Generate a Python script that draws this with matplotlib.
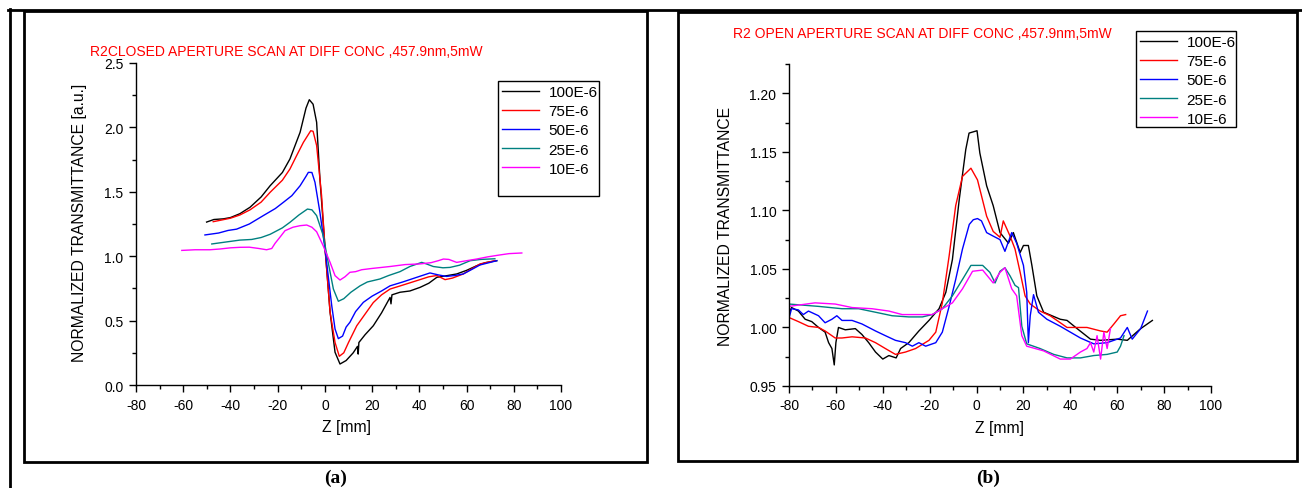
import matplotlib
matplotlib.use("Agg")
import matplotlib.pyplot as plt
from matplotlib.patches import Rectangle
from matplotlib.lines import Line2D
from matplotlib.ticker import MultipleLocator, FormatStrFormatter

plt.rcParams['font.family'] = ['Liberation Sans', 'DejaVu Sans']
plt.rcParams['axes.unicode_minus'] = False

labels = ['100E-6', '75E-6', '50E-6', '25E-6', '10E-6']
colors = ['black', '#ff0000', '#0000ff', '#008080', '#ff00ff']

# (a) closed aperture
z_a100 = [-50.1, -47, -43, -40, -36, -31.7, -27, -23.2, -18, -14.8, -10.5, -8, -6.6, -5, -3.5, -2.1, 0, 2.2, 4.3,
          6.4, 9, 12, 13.8, 14.1, 14.4, 17, 20.5, 24, 27.6, 28.0, 28.4, 31.8, 36, 40.3, 44, 47.4, 52, 55.8, 60, 64.3,
          68, 72.8]
t_a100 = [1.265, 1.285, 1.29, 1.30, 1.33, 1.38, 1.46, 1.547, 1.65, 1.755, 1.962, 2.15, 2.215, 2.18, 2.04, 1.60, 1.08,
          0.565, 0.254, 0.163, 0.19, 0.25, 0.30, 0.24, 0.33, 0.39, 0.46, 0.56, 0.68, 0.63, 0.70, 0.72, 0.73, 0.758,
          0.79, 0.836, 0.85, 0.862, 0.89, 0.926, 0.95, 0.965]
z_a75 = [-47.3, -44, -40, -36, -31.7, -27, -23.2, -18, -14.8, -12, -9.1, -6, -5, -3.5, -1.4, 0.1, 2.2, 4.3, 6.1, 8,
         10, 13.5, 17, 20.5, 24, 27.6, 32, 38.9, 44, 47.4, 50.9, 54, 58.6, 62, 65.7, 72]
t_a75 = [1.268, 1.28, 1.295, 1.32, 1.36, 1.42, 1.496, 1.59, 1.677, 1.78, 1.884, 1.974, 1.97, 1.86, 1.47, 1.05, 0.565,
         0.33, 0.223, 0.25, 0.33, 0.46, 0.55, 0.64, 0.70, 0.745, 0.77, 0.81, 0.84, 0.85, 0.818, 0.83, 0.862, 0.90,
         0.94, 0.965]
z_a50 = [-50.8, -45, -41, -37.4, -32, -26.1, -21, -17.6, -14, -10.5, -8, -7, -5.5, -4.2, -2.1, 0.1, 2.9, 4.3, 5.7,
         7.5, 9, 10.6, 13, 16.3, 20, 24, 27.6, 33, 38.9, 44.5, 48, 51.5, 55, 58.6, 62, 65.7, 72.8]
t_a50 = [1.165, 1.18, 1.20, 1.21, 1.25, 1.315, 1.37, 1.418, 1.47, 1.547, 1.62, 1.651, 1.65, 1.574, 1.34, 1.05, 0.616,
         0.435, 0.36, 0.38, 0.45, 0.487, 0.57, 0.642, 0.69, 0.73, 0.77, 0.80, 0.836, 0.87, 0.855, 0.843, 0.85, 0.862,
         0.895, 0.932, 0.965]
z_a25 = [-47.9, -42, -36, -31, -27, -23.2, -18, -14.8, -11, -7.4, -5.5, -3.5, -0.7, 1.4, 3.6, 5.7, 8, 11, 14.9, 18,
         23.3, 27, 31.8, 36, 41, 43, 45.9, 50, 53, 57, 61.5, 66, 72]
t_a25 = [1.095, 1.11, 1.125, 1.13, 1.145, 1.17, 1.22, 1.263, 1.32, 1.366, 1.36, 1.315, 1.16, 0.952, 0.745, 0.65, 0.67,
         0.72, 0.77, 0.80, 0.823, 0.85, 0.88, 0.92, 0.952, 0.94, 0.92, 0.91, 0.913, 0.93, 0.965, 0.975, 0.98]
z_a10 = [-60.6, -55, -48.7, -44.4, -40, -36, -32, -28, -24.7, -22.5, -21.1, -18.5, -16.9, -13.5, -10.5, -7.7, -5.5,
         -3.5, -0.7, 2.2, 4.3, 6.4, 8.5, 10.6, 13, 15.6, 20, 27.6, 34, 40.3, 45, 48, 50.2, 52.5, 55.8, 60, 64.3, 69,
         74.2, 78, 83.4]
t_a10 = [1.045, 1.05, 1.05, 1.056, 1.065, 1.069, 1.07, 1.06, 1.05, 1.06, 1.10, 1.16, 1.198, 1.225, 1.237, 1.242, 1.225,
         1.19, 1.08, 0.952, 0.849, 0.815, 0.84, 0.875, 0.88, 0.895, 0.905, 0.92, 0.935, 0.94, 0.95, 0.965, 0.978,
         0.975, 0.952, 0.965, 0.978, 0.995, 1.01, 1.02, 1.025]

# (b) open aperture
z_b100 = [-80, -78.9, -76, -73.1, -70.3, -67.4, -64.6, -63.1, -61.7, -60.7, -60, -58.9, -56, -51.7, -48.9, -46, -43.1,
          -40, -37.4, -34.3, -32.4, -28.9, -24.6, -20.3, -16, -13.1, -10.3, -7.4, -4.6, -3.2, -1.5, 0.2, 1.4, 4.3,
          7.1, 10, 13.6, 15.7, 18.6, 20, 22.1, 23.6, 25.7, 28.6, 35.7, 38.6, 42.9, 48.6, 52.9, 60, 64.3, 70, 75]
t_b100 = [1.012, 1.017, 1.014, 1.007, 1.005, 1.000, 0.996, 0.987, 0.982, 0.968, 0.987, 1.000, 0.998, 0.999, 0.994,
          0.987, 0.979, 0.973, 0.976, 0.974, 0.982, 0.987, 0.997, 1.006, 1.016, 1.030, 1.058, 1.109, 1.152, 1.166,
          1.167, 1.168, 1.149, 1.121, 1.104, 1.081, 1.072, 1.081, 1.064, 1.070, 1.070, 1.053, 1.027, 1.013, 1.007,
          1.006, 0.999, 0.990, 0.989, 0.990, 0.989, 0.999, 1.006]
z_b75 = [-80, -76, -71.7, -67.4, -64.6, -60.3, -57.4, -53.1, -47.4, -43.1, -38.9, -34.6, -30.3, -26, -20.3, -17.4,
         -14.6, -11.7, -8.9, -6, -2.4, 0.4, 4.3, 7.1, 10, 11.4, 14.3, 16.4, 18.6, 20.7, 22.9, 27.1, 31.4, 38.6, 47.1,
         52.9, 55.7, 58.6, 61.4, 63.6]
t_b75 = [1.0085, 1.005, 1.001, 1.000, 0.997, 0.991, 0.991, 0.992, 0.991, 0.987, 0.982, 0.977, 0.979, 0.982, 0.989,
         0.996, 1.021, 1.061, 1.104, 1.129, 1.136, 1.126, 1.095, 1.082, 1.077, 1.091, 1.078, 1.067, 1.047, 1.027,
         1.020, 1.014, 1.010, 1.000, 1.000, 0.997, 0.996, 1.003, 1.010, 1.011]
z_b50 = [-80, -78.9, -76, -73.9, -71.7, -67.4, -64.6, -61.7, -59.6, -57.4, -53.1, -48.9, -43.1, -38.9, -34.6, -30.3,
         -27.4, -24.6, -21.7, -17.4, -14.6, -11.7, -8.9, -6, -3.1, -1.4, 0.4, 2.1, 4.3, 7.1, 10, 12.1, 15, 17.1, 20,
         21.4, 22.1, 22.9, 24.3, 26.4, 30, 35.7, 44.3, 50, 55.7, 61.4, 64.3, 66.4, 70, 72.9]
t_b50 = [1.008, 1.016, 1.015, 1.011, 1.014, 1.010, 1.004, 1.007, 1.010, 1.006, 1.006, 1.003, 0.997, 0.993, 0.989,
         0.987, 0.984, 0.987, 0.984, 0.987, 0.996, 1.018, 1.041, 1.067, 1.088, 1.092, 1.093, 1.091, 1.081, 1.078,
         1.075, 1.065, 1.081, 1.072, 1.053, 1.030, 0.987, 1.010, 1.028, 1.013, 1.007, 1.001, 0.991, 0.986, 0.987,
         0.991, 1.000, 0.990, 0.999, 1.014]
z_b25 = [-80, -67.4, -57.4, -50.3, -43.1, -36, -28.9, -23.1, -18.9, -14.6, -10.3, -6, -2.4, 2.6, 5.7, 7.9, 10, 12.1,
         14.3, 16.4, 17.9, 19.3, 21.4, 27.1, 32.9, 38.6, 44.3, 50, 55.7, 60, 61.4, 62.9]
t_b25 = [1.020, 1.018, 1.016, 1.016, 1.013, 1.010, 1.009, 1.009, 1.011, 1.016, 1.027, 1.041, 1.053, 1.053, 1.047,
         1.038, 1.048, 1.051, 1.044, 1.036, 1.034, 1.001, 0.986, 0.982, 0.977, 0.974, 0.974, 0.976, 0.977, 0.979,
         0.984, 0.993]
z_b10 = [-80, -68.9, -60.3, -53.1, -44.6, -37.4, -31.7, -24.6, -18.9, -14.6, -10.3, -6, -1.7, 2.6, 7.1, 10, 12.1, 15,
         17.1, 19.3, 21.4, 28.6, 35.7, 40, 44.3, 47.1, 48.6, 50, 51.4, 52.9, 54.3, 55.7, 57.1]
t_b10 = [1.018, 1.021, 1.020, 1.017, 1.016, 1.014, 1.011, 1.011, 1.011, 1.016, 1.021, 1.033, 1.048, 1.049, 1.038,
         1.047, 1.051, 1.033, 1.027, 0.993, 0.984, 0.980, 0.973, 0.973, 0.979, 0.982, 0.987, 0.979, 0.993, 0.973,
         0.996, 0.982, 0.999]

closed = [(z_a100, t_a100), (z_a75, t_a75), (z_a50, t_a50), (z_a25, t_a25), (z_a10, t_a10)]
opened = [(z_b100, t_b100), (z_b75, t_b75), (z_b50, t_b50), (z_b25, t_b25), (z_b10, t_b10)]

W, H = 1302, 489
fig = plt.figure(figsize=(W / 100, H / 100), dpi=100)


def px_box(x0, y0, x1, y1):
    # pixel box (top-left origin) -> figure fraction rect
    return [x0 / W, 1 - y1 / H, (x1 - x0) / W, (y1 - y0) / H]


def style_axes(ax):
    for s in ['top', 'right']:
        ax.spines[s].set_visible(False)
    for s in ['left', 'bottom']:
        ax.spines[s].set_linewidth(1.0)
    ax.tick_params(which='major', direction='out', length=5, width=1, labelsize=10, pad=4)
    ax.tick_params(which='minor', direction='out', length=3, width=1)
    ax.xaxis.set_major_locator(MultipleLocator(20))
    ax.xaxis.set_minor_locator(MultipleLocator(10))
    ax.set_xlim(-80, 100)


ax_a = fig.add_axes(px_box(136, 64, 561, 386))
ax_b = fig.add_axes(px_box(789, 65, 1211, 387))

for (z, t), c, lab in zip(closed, colors, labels):
    ax_a.plot(z, t, color=c, lw=1.0, label=lab)
for (z, t), c, lab in zip(opened, colors, labels):
    ax_b.plot(z, t, color=c, lw=1.0, label=lab)

style_axes(ax_a)
ax_a.set_ylim(0, 2.5)
ax_a.yaxis.set_major_locator(MultipleLocator(0.5))
ax_a.yaxis.set_minor_locator(MultipleLocator(0.25))
ax_a.yaxis.set_major_formatter(FormatStrFormatter('%.1f'))

style_axes(ax_b)
ax_b.set_ylim(0.95, 1.225)
ax_b.yaxis.set_major_locator(MultipleLocator(0.05))
ax_b.yaxis.set_minor_locator(MultipleLocator(0.025))
ax_b.yaxis.set_major_formatter(FormatStrFormatter('%.2f'))

ax_a.set_xlabel('Z [mm]', fontsize=11.3)
ax_a.xaxis.set_label_coords(0.496, -0.105)
ax_a.set_ylabel('NORMALIZED TRANSMITTANCE [a.u.]', fontsize=11.3)
ax_a.yaxis.set_label_coords(-0.115, 0.508)
ax_b.set_xlabel('Z [mm]', fontsize=11.3)
ax_b.xaxis.set_label_coords(0.499, -0.105)
ax_b.set_ylabel('NORMALIZED TRANSMITTANCE', fontsize=11.3)
ax_b.yaxis.set_label_coords(-0.132, 0.5)

fig.text(90 / W, 1 - 52 / H, 'R2CLOSED APERTURE SCAN AT DIFF CONC ,457.9nm,5mW',
         color='#ff0000', fontsize=10, ha='left', va='center')
fig.text(733 / W, 1 - 34 / H, 'R2 OPEN APERTURE SCAN AT DIFF CONC ,457.9nm,5mW',
         color='#ff0000', fontsize=10, ha='left', va='center')

# legends (no frame; the box is drawn separately)
for ax, (lx, ly) in [(ax_a, (502, 86)), (ax_b, (1140, 36))]:
    ax.legend(loc='upper left', bbox_to_anchor=(lx / W, 1 - ly / H), bbox_transform=fig.transFigure,
              frameon=False, fontsize=11, borderpad=0, borderaxespad=0, handlelength=2.4,
              handletextpad=0.65, labelspacing=0.34)
for x0, y0, x1, y1 in [(498, 82, 599, 197), (1136, 32, 1236, 128)]:
    fig.add_artist(Rectangle((x0 / W, 1 - y1 / H), (x1 - x0) / W, (y1 - y0) / H,
                             transform=fig.transFigure, fill=False, ec='black', lw=1.0))

# page frames around the two panels
fig.add_artist(Line2D([8 / W, 1], [1 - 10.5 / H, 1 - 10.5 / H], transform=fig.transFigure, color='black', lw=2))
fig.add_artist(Line2D([9.5 / W, 9.5 / W], [0, 1 - 10 / H], transform=fig.transFigure, color='black', lw=2))
for x0, y0, x1, y1 in [(24, 12, 647, 463), (678, 13, 1297, 462)]:
    fig.add_artist(Rectangle((x0 / W, 1 - y1 / H), (x1 - x0) / W, (y1 - y0) / H,
                             transform=fig.transFigure, fill=False, ec='black', lw=2))

fig.text(336 / W, 1 - 478 / H, '(a)', fontsize=14, fontweight='bold', family='Liberation Serif',
         ha='center', va='center')
fig.text(988 / W, 1 - 478 / H, '(b)', fontsize=14, fontweight='bold', family='Liberation Serif',
         ha='center', va='center')

fig.savefig('out.png', dpi=100, facecolor='white')
